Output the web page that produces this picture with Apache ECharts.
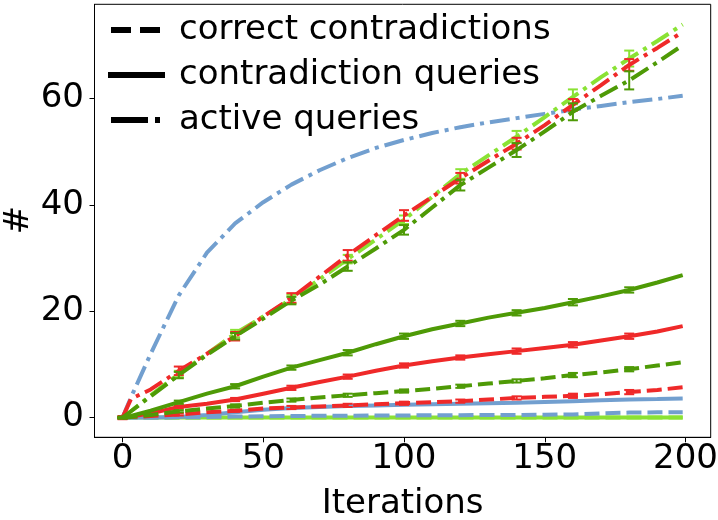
<!DOCTYPE html>
<html>
<head>
<meta charset="utf-8">
<script src="https://cdn.jsdelivr.net/npm/echarts@6/dist/echarts.min.js"></script>
<style>html,body{margin:0;padding:0;background:#fff}#c{width:718px;height:520px}</style>
</head>
<body>
<div id="c"></div>
<script>
// ---- data ----
const iterations = [0, 3, 10, 20, 30, 40, 50, 60, 70, 80, 90, 100, 110, 120, 130, 140, 150, 160, 170, 180, 190, 199];

const blueActive  = [0, 3.8, 12, 23, 31, 36.5, 40.5, 43.8, 46.5, 48.8, 50.7, 52.2, 53.5, 54.6, 55.5, 56.3, 57.1, 57.9, 58.6, 59.3, 59.9, 60.5];
const blueQueries = [0, 0, 0, 0.1, 0.5, 1.0, 1.5, 1.8, 2.0, 2.2, 2.3, 2.4, 2.5, 2.6, 2.7, 2.8, 2.95, 3.1, 3.25, 3.4, 3.5, 3.6];
const blueCorrect = [0, 0, 0, 0.05, 0.1, 0.2, 0.25, 0.3, 0.35, 0.35, 0.4, 0.4, 0.45, 0.45, 0.5, 0.5, 0.55, 0.6, 0.8, 0.95, 1.0, 1.0];

const redActive  = [0, 3.5, 5.3, 8.8, 12, 15.3, 19, 22.5, 26.5, 30.5, 34.3, 38, 41.5, 45, 48.3, 51.5, 55, 58.8, 62.5, 66.3, 69.5, 72.5];
const redQueries = [0, 0.2, 0.8, 2.0, 2.6, 3.4, 4.5, 5.6, 6.7, 7.7, 8.8, 9.8, 10.6, 11.3, 11.9, 12.5, 13.1, 13.7, 14.5, 15.3, 16.2, 17.2];
const redCorrect = [0, 0.1, 0.3, 0.6, 1.0, 1.3, 1.7, 1.9, 2.1, 2.3, 2.5, 2.7, 2.9, 3.1, 3.4, 3.7, 3.9, 4.1, 4.4, 4.8, 5.2, 5.7];

const dkGreenActive  = [0, 1.2, 4, 8, 11.8, 15.3, 18.6, 22, 25, 28.4, 31.8, 35.3, 39.5, 43.7, 47, 50.3, 53.8, 57.5, 60.5, 63.4, 66.8, 70];
const dkGreenQueries = [0, 0.3, 1.3, 2.9, 4.5, 5.9, 7.7, 9.4, 10.8, 12.2, 13.8, 15.3, 16.6, 17.7, 18.8, 19.7, 20.6, 21.7, 22.8, 24, 25.4, 26.8];
const dkGreenCorrect = [0, 0.1, 0.5, 1.2, 1.7, 2.2, 2.8, 3.3, 3.8, 4.2, 4.6, 5.0, 5.4, 5.9, 6.4, 6.9, 7.4, 8.0, 8.5, 9.1, 9.8, 10.4];

const ltGreenActive  = [0, 1.2, 4.2, 8.2, 12, 15.8, 19, 22.3, 26, 29.8, 33.5, 37.2, 41.5, 45.8, 49.3, 52.8, 56.5, 60.3, 64, 67.5, 70.8, 73.9];
const ltGreenQueries = [0, 0, 0, 0, 0, 0, 0, 0, 0, 0, 0, 0, 0, 0, 0, 0, 0, 0, 0, 0, 0, 0];
const ltGreenCorrect = [0, 0, 0, 0, 0, 0, 0, 0, 0, 0, 0, 0, 0, 0, 0, 0, 0, 0, 0, 0, 0, 0];

// error bars at these iterations
const errIterations = [0, 20, 40, 60, 80, 100, 120, 140, 160, 180];
const redActiveErr      = [0.3, 0.8, 0.8, 0.9, 1.0, 1.0, 1.0, 1.1, 1.1, 1.1];
const redQueriesErr     = [0.1, 0.3, 0.3, 0.4, 0.4, 0.4, 0.4, 0.5, 0.5, 0.5];
const redCorrectErr     = [0.1, 0.2, 0.2, 0.3, 0.3, 0.3, 0.3, 0.3, 0.4, 0.4];
const dkGreenActiveErr  = [0.2, 0.6, 0.6, 0.7, 0.8, 0.9, 1.0, 1.3, 1.6, 1.7];
const dkGreenQueriesErr = [0.1, 0.3, 0.4, 0.4, 0.5, 0.5, 0.5, 0.5, 0.6, 0.5];
const dkGreenCorrectErr = [0.1, 0.2, 0.3, 0.3, 0.3, 0.3, 0.3, 0.3, 0.4, 0.4];
const ltGreenActiveErr  = [0.2, 0.6, 0.7, 0.8, 0.8, 0.8, 0.9, 1.1, 1.4, 1.5];

const xTicks = [0, 50, 100, 150, 200];
const yTicks = [0, 20, 40, 60];
const legendNames = ['correct contradictions', 'contradiction queries', 'active queries'];
const yAxisTitle = '#';

// ---- styles ----
const BLUE = '#729fcf', RED = '#ef2929', DKGREEN = '#4e9a06', LTGREEN = '#8ae234';
const DASH = [15, 6];
const DASHDOT = [20, 6, 4, 6];
const FONT = 'DejaVu Sans';
const TINY = 'M0,2.99H0.01V3.01H0Z M56.99,2.99H57V3.01H56.99Z ';
const legendIcons = [
  'path://' + TINY + 'M3,0H23V6H3Z M32,0H52V6H32Z',
  'path://M0,0H57V6H0Z',
  'path://' + TINY + 'M3,0H40V6H3Z M47,0H52V6H47Z'
];

function pairs(vals) { return iterations.map((x, i) => [x, vals[i]]); }
function lineSeries(vals, color, type, z) {
  return {
    type: 'line', data: pairs(vals), symbol: 'none', silent: true, z: z,
    lineStyle: { color: color, width: 4, type: type, cap: 'butt' },
    itemStyle: { color: color }
  };
}
function errSeries(vals, errs, color, z) {
  const data = errIterations.map((x, i) => {
    const m = vals[iterations.indexOf(x)];
    return [x, m - errs[i], m + errs[i]];
  });
  return {
    type: 'custom', data: data, silent: true, z: z,
    encode: { x: 0, y: [1, 2] },
    renderItem: function (params, api) {
      const lo = api.coord([api.value(0), api.value(1)]);
      const hi = api.coord([api.value(0), api.value(2)]);
      const hw = 5;
      const st = { stroke: color, lineWidth: 2 };
      return {
        type: 'group',
        children: [
          { type: 'line', shape: { x1: lo[0], y1: lo[1], x2: hi[0], y2: hi[1] }, style: st },
          { type: 'line', shape: { x1: lo[0] - hw, y1: lo[1], x2: lo[0] + hw, y2: lo[1] }, style: st },
          { type: 'line', shape: { x1: hi[0] - hw, y1: hi[1], x2: hi[0] + hw, y2: hi[1] }, style: st }
        ]
      };
    }
  };
}

const series = [
  lineSeries(blueCorrect, BLUE, DASH, 2),
  lineSeries(blueQueries, BLUE, 'solid', 2),
  lineSeries(blueActive, BLUE, DASHDOT, 2),
  lineSeries(ltGreenCorrect, LTGREEN, DASH, 1),
  lineSeries(ltGreenQueries, LTGREEN, 'solid', 1),
  lineSeries(ltGreenActive, LTGREEN, DASHDOT, 3),
  errSeries(ltGreenActive, ltGreenActiveErr, LTGREEN, 3),
  lineSeries(redCorrect, RED, DASH, 4),
  errSeries(redCorrect, redCorrectErr, RED, 4),
  lineSeries(redQueries, RED, 'solid', 4),
  errSeries(redQueries, redQueriesErr, RED, 4),
  lineSeries(redActive, RED, DASHDOT, 4),
  errSeries(redActive, redActiveErr, RED, 4),
  lineSeries(dkGreenCorrect, DKGREEN, DASH, 5),
  errSeries(dkGreenCorrect, dkGreenCorrectErr, DKGREEN, 5),
  lineSeries(dkGreenQueries, DKGREEN, 'solid', 5),
  errSeries(dkGreenQueries, dkGreenQueriesErr, DKGREEN, 5),
  lineSeries(dkGreenActive, DKGREEN, DASHDOT, 5),
  errSeries(dkGreenActive, dkGreenActiveErr, DKGREEN, 5)
];
legendNames.forEach(function (n) {
  series.push({ type: 'line', name: n, data: [], symbol: 'none', lineStyle: { color: '#000' }, itemStyle: { color: '#000' } });
});

const chart = echarts.init(document.getElementById('c'), null, { renderer: 'canvas' });
chart.setOption({
  animation: false,
  backgroundColor: '#fff',
  textStyle: { fontFamily: FONT },
  grid: { left: 94.5, right: 7.3, top: 4.3, bottom: 82.7, outerBoundsMode: 'none', containLabel: false, show: true, borderColor: '#000', borderWidth: 1, backgroundColor: 'transparent' },
  legend: {
    data: legendNames.map(function (n, i) { return { name: n, icon: legendIcons[i], itemStyle: { color: '#000' } }; }),
    orient: 'vertical', left: 103, top: 7, itemWidth: 57, itemHeight: 6, itemGap: 9,
    selectedMode: false,
    textStyle: { fontFamily: FONT, fontSize: 34, color: '#000', lineHeight: 36, padding: [0, 0, 0, 9] }
  },
  graphic: [{
    type: 'text', x: 19, y: 220, rotation: Math.PI / 2, silent: true,
    style: { text: yAxisTitle, fontFamily: FONT, fontSize: 34, fill: '#000', align: 'center', verticalAlign: 'middle' }
  }],
  xAxis: {
    type: 'value', min: -9.95, max: 208.95,
    name: 'Iterations', nameLocation: 'middle', nameGap: 50,
    nameTextStyle: { fontFamily: FONT, fontSize: 34, color: '#000' },
    axisLine: { show: true, onZero: false, lineStyle: { color: '#000', width: 1 } },
    axisTick: { show: true, length: 5, lineStyle: { color: '#000' }, customValues: xTicks },
    axisLabel: { fontFamily: FONT, fontSize: 34, color: '#000', margin: 5, customValues: xTicks, hideOverlap: false },
    splitLine: { show: false }
  },
  yAxis: {
    type: 'value', min: -3.7, max: 77.7,
    axisLine: { show: true, onZero: false, lineStyle: { color: '#000', width: 1 } },
    axisTick: { show: true, length: 5, lineStyle: { color: '#000' }, customValues: yTicks },
    axisLabel: { fontFamily: FONT, fontSize: 34, color: '#000', margin: 10.5, customValues: yTicks },
    splitLine: { show: false }
  },
  series: series
});
</script>
</body>
</html>
